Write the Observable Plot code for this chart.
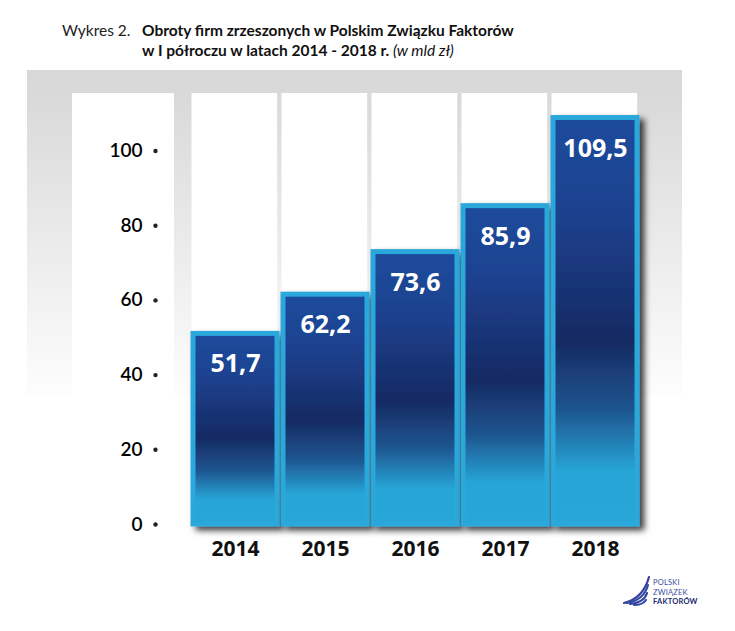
<!DOCTYPE html>
<html><head><meta charset="utf-8">
<script src="https://cdn.jsdelivr.net/npm/d3@7"></script>
<script src="https://cdn.jsdelivr.net/npm/@observablehq/plot@0.6"></script>
<style>
body{margin:0;background:#fff;width:735px;height:631px;overflow:hidden;font-family:Lato,sans-serif}
#title{position:relative;height:60px;font-size:15.5px;color:#111;}
#title .lab{position:absolute;left:62px;top:20px;line-height:20px;color:#222}
#title .t{position:absolute;left:142px;top:20px;font-weight:bold;line-height:20px;white-space:nowrap}
#title i{font-weight:normal}
#chart svg{display:block}
</style></head><body>
<div id="title"><span class="lab">Wykres 2.</span><div class="t">Obroty firm zrzeszonych w Polskim Związku Faktorów<br>w I półroczu w latach 2014 - 2018 r. <i>(w mld zł)</i></div></div>
<div id="chart"></div>
<script>
const years = ["2014", "2015", "2016", "2017", "2018"];
const values = [51.7, 62.2, 73.6, 85.9, 109.5];
const yTicks = [0, 20, 40, 60, 80, 100];
const logoLines = ["POLSKI", "ZWIĄZEK", "FAKTORÓW"];

const data = years.map((year, i) => ({year, value: values[i]}));
const fmt = v => v.toFixed(1).replace(".", ",");

const H = 571, Y0 = 464, K = 3.735;

function background(index, scales, values, dims) {
  const g = d3.create("svg:g");
  const defs = g.append("defs");
  const bg = defs.append("linearGradient").attr("id", "bgGrad").attr("x1", 0).attr("x2", 0).attr("y1", 0).attr("y2", 1);
  bg.append("stop").attr("offset", 0).attr("stop-color", "#d8d8d8");
  bg.append("stop").attr("offset", 0.08).attr("stop-color", "#d9d9d9");
  bg.append("stop").attr("offset", 1).attr("stop-color", "#fdfdfd");
  const bar = defs.append("linearGradient").attr("id", "barGrad").attr("x1", 0).attr("x2", 0).attr("y1", 0).attr("y2", 1);
  [[0, "#1e4b9c"], [0.22, "#1c4290"], [0.55, "#172a63"], [0.72, "#1e5690"], [0.87, "#27a5d6"], [1, "#27a7d8"]]
    .forEach(([o, c]) => bar.append("stop").attr("offset", o).attr("stop-color", c));
  const f = defs.append("filter").attr("id", "shadow").attr("x", "-20%").attr("y", "-20%").attr("width", "150%").attr("height", "140%");
  f.append("feDropShadow").attr("dx", 5).attr("dy", 4).attr("stdDeviation", 3).attr("flood-color", "#000").attr("flood-opacity", 0.75);

  g.append("rect").attr("x", 27).attr("y", 10).attr("width", 655).attr("height", 325).attr("fill", "url(#bgGrad)");
  g.append("rect").attr("x", 72).attr("y", 33).attr("width", 102).attr("height", 440).attr("fill", "#fff");
  const bw = scales.x.bandwidth();
  for (const yr of years) {
    const x = scales.x(yr);
    g.append("rect").attr("x", x + 1.5).attr("y", 33).attr("width", bw - 4.3).attr("height", 440).attr("fill", "#fff");
  }
  return g.node();
}

const plot = Plot.plot({
  width: 735, height: H,
  marginLeft: 188, marginRight: 93,
  marginTop: Y0 - 120 * K, marginBottom: H - Y0,
  style: {fontFamily: "Lato, sans-serif", background: "transparent", overflow: "visible"},
  x: {domain: years, padding: 0},
  y: {domain: [0, 120]},
  marks: [
    background,
    Plot.axisY(yTicks, {tickSize: 0, tickPadding: 46, fontSize: 19, fontWeight: 600, fill: "#000", label: null}),
    Plot.dot(yTicks, {y: d => d, frameAnchor: "left", dx: -33, r: 2.2, fill: "#222", stroke: null}),
    Plot.barY(data, {x: "year", y: "value", fill: "url(#barGrad)", stroke: "#2aa8dc", strokeWidth: 5, insetLeft: 3, insetRight: 3, insetTop: 2.5}),
    Plot.text(data, {x: "year", y: "value", text: d => fmt(d.value), dy: 33, fill: "#fff", fontSize: 25, fontWeight: "bold", fontFamily: "Open Sans", lineAnchor: "middle"}),
    Plot.axisX({tickSize: 0, tickPadding: 17, fontSize: 21, fontWeight: "bold", fontFamily: "Open Sans", fill: "#111", label: null})
  ]
});

d3.select(plot).selectAll("g[aria-label='bar'] rect").attr("filter", "url(#shadow)");

// logo
const svg = d3.select(plot);
const lg = svg.append("g").attr("transform", "translate(0,-60)").attr("text-anchor", "start");
const swoosh = [
  "M624,603 C636,600 645,592 649,577",
  "M627,603 C638,601 645,596 648,585",
  "M630,604 C639,603 645,600 647,593",
  "M634,605 C640,605 644,603 646,600"
];
swoosh.forEach((p, i) => lg.append("path").attr("d", p).attr("fill", "none")
  .attr("stroke", i % 2 ? "#2d4ea8" : "#3a3f9a").attr("stroke-width", 2.2).attr("stroke-linecap", "round"));
logoLines.forEach((t, i) => lg.append("text").attr("x", 653).attr("y", 585 + i * 9.5)
  .attr("text-anchor", "start")
  .attr("font-family", "Lato, sans-serif").attr("font-size", 7.5).attr("letter-spacing", 0.2)
  .attr("font-weight", i === 2 ? "bold" : "normal").attr("fill", i === 2 ? "#1b2a6e" : "#3b4aa0").text(t));

document.getElementById("chart").appendChild(plot);
</script>
</body></html>
